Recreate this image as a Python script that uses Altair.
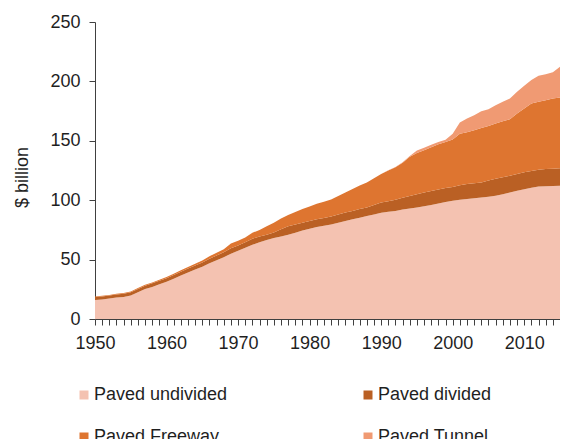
import altair as alt
import pandas as pd

years = list(range(1950, 2016))

paved_undivided = [16.0, 16.5, 17.3, 18.0, 18.6, 19.8, 22.5, 25.2, 27.0, 29.2,
                   31.3, 33.8, 36.6, 39.2, 41.6, 44.0, 47.0, 49.5, 52.0, 55.0,
                   57.5, 60.0, 62.5, 64.5, 66.5, 68.2, 69.5, 71.0, 72.5, 74.5,
                   76.0, 77.5, 78.5, 79.6, 81.0, 82.5, 84.0, 85.3, 86.7, 88.0,
                   89.5, 90.3, 91.0, 92.2, 93.0, 93.8, 95.0, 96.0, 97.2, 98.5,
                   99.5, 100.3, 101.0, 101.6, 102.3, 103.0, 103.7, 105.0, 106.5, 108.0,
                   109.3, 110.5, 111.6, 111.8, 112.0, 112.1]
paved_divided = [2.5, 2.5, 2.5, 2.6, 2.6, 2.7, 2.7, 2.8, 3.0, 3.0,
                 3.1, 3.2, 3.2, 3.3, 3.4, 3.5, 3.8, 4.0, 4.2, 4.5,
                 4.4, 4.5, 5.0, 5.0, 4.5, 4.6, 6.0, 7.0, 7.0, 6.5,
                 6.5, 6.5, 6.5, 6.6, 7.0, 7.1, 7.0, 7.2, 7.1, 8.0,
                 8.5, 8.9, 9.3, 9.8, 10.5, 11.2, 11.5, 11.8, 11.8, 11.7,
                 11.7, 12.2, 12.6, 12.7, 12.7, 13.5, 14.3, 14.3, 14.1, 14.0,
                 14.2, 14.1, 14.1, 14.4, 14.5, 14.7]
paved_freeway = [0.5, 0.5, 0.5, 0.6, 0.6, 0.7, 0.8, 0.8, 0.8, 0.8,
                 0.9, 1.0, 1.2, 1.3, 1.6, 1.7, 2.0, 2.3, 2.6, 4.0,
                 3.9, 4.0, 5.0, 5.5, 7.0, 8.2, 9.0, 9.5, 10.5, 11.5,
                 12.3, 13.0, 13.8, 14.3, 15.5, 16.9, 18.5, 19.8, 21.2, 22.5,
                 24.0, 25.8, 27.4, 29.5, 33.0, 34.8, 35.5, 36.7, 38.0, 38.7,
                 39.8, 43.4, 43.7, 44.5, 45.8, 46.0, 46.5, 47.1, 47.5, 51.0,
                 53.6, 56.8, 57.1, 58.0, 59.1, 59.6]
paved_tunnel = [0, 0, 0, 0, 0, 0, 0, 0, 0, 0,
                0, 0, 0, 0, 0, 0, 0, 0, 0, 0,
                0, 0, 0, 0, 0, 0, 0, 0, 0, 0,
                0, 0, 0, 0, 0, 0, 0, 0, 0, 0,
                0, 0.2, 0.3, 0.5, 0.7, 2.0, 2.2, 2.1, 1.9, 1.9,
                5.0, 9.6, 11.5, 12.7, 14.0, 14.1, 15.5, 16.4, 17.5, 18.3,
                19.2, 19.8, 22.0, 21.8, 22.0, 26.0]

series_names = ["Paved undivided", "Paved divided", "Paved Freeway", "Paved Tunnel"]
series_colors = ["#F4C2B1", "#BA6024", "#DE7530", "#F09A73"]
series_values = [paved_undivided, paved_divided, paved_freeway, paved_tunnel]

rows = []
for k, (name, vals) in enumerate(zip(series_names, series_values)):
    for yr, v in zip(years, vals):
        rows.append({"year": yr, "series": name, "value": v, "ord": k})
df = pd.DataFrame(rows)

FONT = "Liberation Sans"
TXT = "#1f1f1f"

chart = alt.Chart(df).mark_area(interpolate="linear").encode(
    x=alt.X("year:Q",
            scale=alt.Scale(domain=[1950, 2015], nice=False, zero=False),
            axis=alt.Axis(title=None, values=years,
                          labelExpr="datum.value % 10 === 0 ? datum.value : ''",
                          labelOverlap=False, labelFlush=False,
                          grid=False, tickSize=6, labelPadding=9,
                          labelFontSize=18, labelFont=FONT, labelColor=TXT,
                          domainColor="#404040", tickColor="#404040")),
    y=alt.Y("value:Q", stack="zero",
            scale=alt.Scale(domain=[0, 250], nice=False),
            axis=alt.Axis(title="$ billion", values=[0, 50, 100, 150, 200, 250],
                          grid=False, tickSize=6, labelPadding=9,
                          labelFontSize=18, labelFont=FONT, labelColor=TXT,
                          titleFontSize=18, titleFont=FONT, titleColor=TXT,
                          titleFontWeight="normal",
                          titleX=-73, titleY=155, titleAngle=270,
                          titleAlign="center", titleBaseline="middle",
                          domainColor="#404040", tickColor="#404040")),
    color=alt.Color("series:N",
                    scale=alt.Scale(domain=series_names, range=series_colors),
                    legend=alt.Legend(title=None, orient="none", direction="horizontal",
                                      legendX=-20, legendY=364,
                                      columns=2, columnPadding=131, rowPadding=24,
                                      symbolType="square", symbolSize=81,
                                      symbolStrokeWidth=0, labelOffset=1,
                                      labelFontSize=18, labelFont=FONT,
                                      labelColor=TXT, labelLimit=300)),
    order=alt.Order("ord:Q", sort="ascending"),
).properties(
    width=465, height=297,
    padding={"left": 87, "top": 14, "right": 0, "bottom": 120},
    autosize=alt.AutoSizeParams(type="none"),
).configure_view(stroke=None)

chart.save("out.html", embed_options={"renderer": "svg", "actions": False})
